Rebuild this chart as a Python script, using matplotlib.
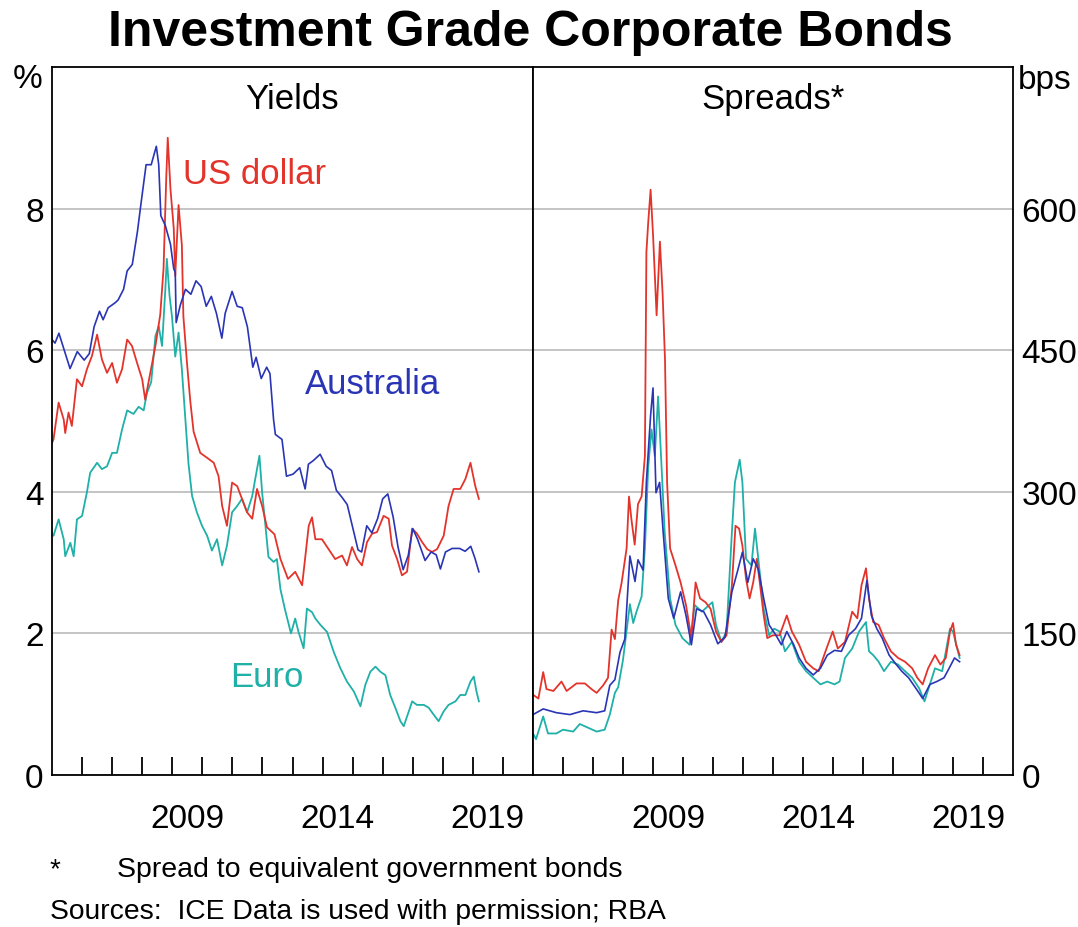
import matplotlib.pyplot as plt
import numpy as np

plt.rcParams['font.family'] = ['Liberation Sans', 'DejaVu Sans']

################## Yields (per cent) #######################
au_yld_t = [2005.0, 2005.1, 2005.23, 2005.6, 2005.84, 2006.07, 2006.24, 2006.4, 2006.58, 2006.7,
            2006.87, 2007.1, 2007.2, 2007.38, 2007.5, 2007.67, 2007.84, 2007.96, 2008.13, 2008.3,
            2008.47, 2008.55, 2008.62, 2008.77, 2008.94, 2009.05, 2009.1, 2009.13, 2009.27, 2009.44,
            2009.62, 2009.79, 2009.96, 2010.13, 2010.3, 2010.47, 2010.65, 2010.76, 2010.99, 2011.16,
            2011.33, 2011.5, 2011.68, 2011.79, 2011.96, 2012.14, 2012.25, 2012.37, 2012.43, 2012.65,
            2012.8, 2013.02, 2013.24, 2013.42, 2013.53, 2013.69, 2013.92, 2014.12, 2014.3, 2014.46,
            2014.65, 2014.82, 2015.0, 2015.18, 2015.3, 2015.47, 2015.64, 2015.83, 2016.0, 2016.17,
            2016.35, 2016.51, 2016.68, 2016.85, 2017.0, 2017.16, 2017.41, 2017.61, 2017.78, 2017.92,
            2018.09, 2018.31, 2018.56, 2018.74, 2018.93, 2019.07, 2019.2]
au_yld = [6.15, 6.1, 6.24, 5.74, 5.98, 5.86, 5.95, 6.33, 6.55, 6.43,
          6.6, 6.67, 6.71, 6.86, 7.12, 7.21, 7.67, 8.07, 8.62, 8.62,
          8.88, 8.62, 7.9, 7.76, 7.5, 7.15, 7.1, 6.39, 6.64, 6.86,
          6.79, 6.98, 6.9, 6.62, 6.76, 6.52, 6.17, 6.52, 6.83, 6.62,
          6.6, 6.33, 5.76, 5.9, 5.6, 5.76, 5.67, 5.02, 4.81, 4.74,
          4.22, 4.25, 4.34, 4.04, 4.39, 4.44, 4.53, 4.36, 4.3, 4.02,
          3.92, 3.82, 3.5, 3.18, 3.15, 3.52, 3.42, 3.62, 3.9, 3.97,
          3.64, 3.22, 2.9, 3.1, 3.48, 3.33, 3.03, 3.15, 3.11, 2.91,
          3.15, 3.2, 3.2, 3.16, 3.23, 3.06, 2.87]

us_yld_t = [2005.0, 2005.05, 2005.22, 2005.39, 2005.44, 2005.55, 2005.66, 2005.83, 2006.0, 2006.16,
            2006.33, 2006.5, 2006.66, 2006.83, 2007.0, 2007.16, 2007.33, 2007.5, 2007.66, 2007.83,
            2008.0, 2008.1, 2008.27, 2008.44, 2008.6, 2008.71, 2008.8, 2008.85, 2008.94, 2009.05,
            2009.1, 2009.21, 2009.32, 2009.37, 2009.49, 2009.6, 2009.71, 2009.93, 2010.16, 2010.38,
            2010.54, 2010.66, 2010.82, 2010.99, 2011.16, 2011.32, 2011.49, 2011.66, 2011.82, 2011.99,
            2012.15, 2012.4, 2012.6, 2012.85, 2013.09, 2013.32, 2013.54, 2013.65, 2013.76, 2013.98,
            2014.2, 2014.42, 2014.65, 2014.81, 2014.98, 2015.15, 2015.31, 2015.48, 2015.65, 2015.81,
            2016.03, 2016.2, 2016.31, 2016.48, 2016.64, 2016.81, 2016.98, 2017.14, 2017.31, 2017.48,
            2017.64, 2017.81, 2018.03, 2018.19, 2018.36, 2018.58, 2018.75, 2018.92, 2019.08, 2019.2]
us_yld = [4.69, 4.74, 5.26, 5.02, 4.83, 5.12, 4.93, 5.59, 5.49, 5.73,
          5.92, 6.22, 5.87, 5.68, 5.82, 5.54, 5.73, 6.15, 6.06, 5.82,
          5.59, 5.3, 5.68, 6.06, 6.5, 7.15, 8.43, 9.0, 8.28, 7.72,
          7.05, 8.05, 7.48, 6.48, 5.82, 5.28, 4.85, 4.55, 4.48, 4.41,
          4.22, 3.8, 3.52, 4.13, 4.08, 3.9, 3.71, 3.62, 4.04, 3.8,
          3.5, 3.4, 3.05, 2.77, 2.87, 2.68, 3.52, 3.64, 3.33, 3.33,
          3.19, 3.05, 3.1, 2.96, 3.22, 3.05, 2.96, 3.29, 3.41, 3.43,
          3.66, 3.62, 3.24, 3.05, 2.82, 2.87, 3.48, 3.41, 3.29, 3.19,
          3.15, 3.19, 3.38, 3.8, 4.04, 4.04, 4.18, 4.41, 4.08, 3.9]

eu_yld_t = [2005.0, 2005.05, 2005.22, 2005.39, 2005.44, 2005.61, 2005.72, 2005.83, 2006.0, 2006.16,
            2006.27, 2006.5, 2006.66, 2006.83, 2007.0, 2007.16, 2007.33, 2007.5, 2007.71, 2007.88,
            2008.05, 2008.16, 2008.3, 2008.44, 2008.55, 2008.66, 2008.77, 2008.82, 2008.91, 2008.99,
            2009.1, 2009.21, 2009.32, 2009.43, 2009.54, 2009.66, 2009.82, 2009.99, 2010.16, 2010.32,
            2010.49, 2010.66, 2010.82, 2010.99, 2011.16, 2011.32, 2011.49, 2011.66, 2011.76, 2011.9,
            2011.99, 2012.1, 2012.2, 2012.37, 2012.48, 2012.6, 2012.76, 2012.95, 2013.09, 2013.2,
            2013.37, 2013.48, 2013.65, 2013.76, 2013.93, 2014.15, 2014.37, 2014.59, 2014.81, 2015.04,
            2015.26, 2015.42, 2015.59, 2015.76, 2015.92, 2016.09, 2016.25, 2016.42, 2016.59, 2016.7,
            2016.87, 2016.98, 2017.14, 2017.37, 2017.53, 2017.7, 2017.86, 2018.03, 2018.19, 2018.42,
            2018.58, 2018.75, 2018.92, 2019.03, 2019.12, 2019.2]
eu_yld = [3.4, 3.38, 3.61, 3.33, 3.09, 3.28, 3.09, 3.61, 3.66, 3.99,
          4.27, 4.41, 4.32, 4.36, 4.55, 4.55, 4.88, 5.15, 5.1, 5.2,
          5.15, 5.4, 5.55, 6.2, 6.34, 6.06, 6.86, 7.29, 6.77, 6.48,
          5.91, 6.25, 5.73, 5.06, 4.4, 3.94, 3.71, 3.52, 3.38, 3.17,
          3.33, 2.96, 3.24, 3.71, 3.8, 3.9, 3.71, 3.94, 4.18, 4.51,
          3.99, 3.52, 3.08, 3.01, 3.05, 2.62, 2.32, 2.0, 2.21, 2.02,
          1.79, 2.35, 2.3, 2.21, 2.12, 2.02, 1.74, 1.51, 1.32, 1.18,
          0.97, 1.27, 1.46, 1.53, 1.46, 1.41, 1.13, 0.95, 0.76, 0.69,
          0.9, 1.04, 0.99, 0.99, 0.95, 0.85, 0.76, 0.9, 0.99, 1.04,
          1.13, 1.13, 1.32, 1.39, 1.18, 1.04]

################## Spreads (basis points) #######################
us_spr_t = [2005.0, 2005.18, 2005.34, 2005.45, 2005.68, 2005.95, 2006.12, 2006.45, 2006.73, 2006.95,
            2007.12, 2007.34, 2007.5, 2007.62, 2007.73, 2007.84, 2007.95, 2008.12, 2008.2, 2008.28,
            2008.39, 2008.5, 2008.62, 2008.73, 2008.78, 2008.84, 2008.92, 2009.0, 2009.12, 2009.23,
            2009.32, 2009.4, 2009.47, 2009.57, 2009.75, 2009.92, 2010.1, 2010.28, 2010.42, 2010.57,
            2010.75, 2010.92, 2011.1, 2011.28, 2011.45, 2011.63, 2011.75, 2011.87, 2011.98, 2012.1,
            2012.22, 2012.34, 2012.46, 2012.57, 2012.69, 2012.81, 2012.99, 2013.22, 2013.46, 2013.63,
            2013.87, 2014.1, 2014.34, 2014.52, 2014.75, 2014.99, 2015.16, 2015.4, 2015.64, 2015.81,
            2015.95, 2016.1, 2016.2, 2016.34, 2016.52, 2016.7, 2016.93, 2017.17, 2017.4, 2017.64,
            2017.81, 2017.99, 2018.17, 2018.4, 2018.58, 2018.76, 2018.9, 2019.0, 2019.1, 2019.22]
us_spr = [85, 81, 109, 91, 89, 99, 89, 97, 97, 91,
          87, 95, 103, 154, 144, 185, 203, 240, 295, 271,
          244, 287, 295, 338, 554, 585, 620, 573, 487, 565,
          510, 440, 310, 240, 222, 204, 180, 145, 204, 187,
          183, 176, 152, 141, 148, 201, 264, 261, 243, 208,
          187, 204, 229, 201, 169, 145, 148, 148, 169, 152,
          138, 120, 113, 110, 131, 152, 134, 141, 173, 166,
          201, 219, 187, 162, 159, 145, 131, 124, 120, 113,
          103, 96, 113, 127, 117, 124, 152, 161, 138, 127]

au_spr_t = [2005.0, 2005.34, 2005.78, 2006.23, 2006.67, 2007.12, 2007.39, 2007.56, 2007.73, 2007.9,
            2008.06, 2008.23, 2008.4, 2008.5, 2008.67, 2008.78, 2008.92, 2009.0, 2009.1, 2009.22,
            2009.34, 2009.51, 2009.69, 2009.92, 2010.1, 2010.28, 2010.45, 2010.69, 2010.92, 2011.16,
            2011.4, 2011.63, 2011.81, 2011.98, 2012.16, 2012.34, 2012.51, 2012.69, 2012.87, 2013.1,
            2013.28, 2013.46, 2013.69, 2013.87, 2014.1, 2014.34, 2014.58, 2014.81, 2015.05, 2015.28,
            2015.52, 2015.75, 2015.95, 2016.13, 2016.28, 2016.46, 2016.64, 2016.87, 2017.11, 2017.29,
            2017.52, 2017.76, 2017.99, 2018.23, 2018.46, 2018.7, 2018.87, 2019.05, 2019.22]
au_spr = [64, 70, 66, 64, 68, 66, 68, 95, 101, 130,
          144, 232, 205, 228, 217, 311, 381, 410, 299, 310,
          257, 187, 166, 194, 169, 138, 176, 173, 159, 139,
          146, 194, 215, 236, 204, 229, 218, 187, 159, 148,
          138, 152, 138, 124, 113, 106, 113, 127, 132, 131,
          148, 155, 166, 206, 169, 155, 145, 127, 117, 110,
          103, 92, 81, 96, 99, 103, 113, 124, 120]

eu_spr_t = [2005.0, 2005.1, 2005.34, 2005.5, 2005.78, 2006.0, 2006.34, 2006.56, 2006.84, 2007.12,
            2007.39, 2007.56, 2007.73, 2007.84, 2008.0, 2008.23, 2008.34, 2008.45, 2008.62, 2008.73,
            2008.84, 2008.95, 2009.06, 2009.17, 2009.28, 2009.39, 2009.57, 2009.75, 2009.98, 2010.22,
            2010.39, 2010.63, 2010.87, 2010.98, 2011.1, 2011.28, 2011.45, 2011.63, 2011.73, 2011.89,
            2011.98, 2012.1, 2012.28, 2012.4, 2012.51, 2012.69, 2012.87, 2013.04, 2013.22, 2013.4,
            2013.63, 2013.87, 2014.1, 2014.34, 2014.58, 2014.81, 2015.05, 2015.22, 2015.4, 2015.64,
            2015.87, 2016.1, 2016.2, 2016.34, 2016.52, 2016.7, 2016.93, 2017.17, 2017.4, 2017.64,
            2017.87, 2018.05, 2018.23, 2018.4, 2018.64, 2018.9, 2019.0, 2019.22]
eu_spr = [44, 38, 62, 44, 44, 48, 46, 54, 50, 46,
          48, 64, 87, 93, 122, 181, 161, 173, 189, 240,
          326, 366, 338, 401, 330, 257, 187, 159, 145, 138,
          180, 173, 180, 183, 159, 141, 152, 257, 310, 334,
          310, 229, 222, 261, 229, 176, 148, 155, 152, 131,
          141, 120, 110, 103, 96, 99, 96, 99, 124, 134,
          152, 162, 131, 127, 120, 110, 120, 117, 110, 103,
          92, 78, 96, 113, 110, 155, 152, 124]

year_labels = ['2009', '2014', '2019']
yld_ticks = [0, 2, 4, 6, 8]
spr_ticks = [0, 150, 300, 450, 600]

RED = '#e3342c'
BLUE = '#2a35b5'
TEAL = '#1fb0a8'
GRID = '#b4b4b4'

fig = plt.figure(figsize=(10.78, 9.28), dpi=100)
ax1 = fig.add_axes([52 / 1078, 152 / 928, 481 / 1078, 708 / 928])
ax2 = fig.add_axes([533 / 1078, 152 / 928, 480 / 1078, 708 / 928])


def style(ax, ticks, ymax):
    ax.set_xlim(2005, 2021)
    ax.set_ylim(0, ymax)
    ax.set_yticks(ticks)
    ax.set_xticks(np.arange(2006, 2021))
    ax.set_xticklabels([])
    ax.set_xticks([2009.5, 2014.5, 2019.5], minor=True)
    ax.set_xticklabels(year_labels, minor=True, fontsize=24)
    ax.tick_params(axis='x', which='major', direction='in', length=13, width=1.3)
    ax.tick_params(axis='x', which='minor', length=0, pad=20)
    ax.tick_params(axis='y', length=0, labelsize=24, pad=6)
    ax.grid(axis='y', color=GRID, lw=1.1)
    ax.set_axisbelow(True)
    for s in ax.spines.values():
        s.set_linewidth(1.3)


style(ax1, yld_ticks, 10)
style(ax2, spr_ticks, 750)
ax2.yaxis.tick_right()

ax1.plot(eu_yld_t, eu_yld, color=TEAL, lw=1.3)
ax1.plot(us_yld_t, us_yld, color=RED, lw=1.3)
ax1.plot(au_yld_t, au_yld, color=BLUE, lw=1.2)

ax2.plot(eu_spr_t, eu_spr, color=TEAL, lw=1.3)
ax2.plot(us_spr_t, us_spr, color=RED, lw=1.3)
ax2.plot(au_spr_t, au_spr, color=BLUE, lw=1.2)

ax1.text(0.5, 0.955, 'Yields', transform=ax1.transAxes, ha='center', va='center', fontsize=25)
ax2.text(0.5, 0.955, 'Spreads*', transform=ax2.transAxes, ha='center', va='center', fontsize=25)

ax1.text(2009.37, 8.49, 'US dollar', color=RED, fontsize=25, va='center')
ax1.text(2013.43, 5.53, 'Australia', color=BLUE, fontsize=25, va='center')
ax1.text(2010.94, 1.39, 'Euro', color=TEAL, fontsize=25, va='center')

fig.text(28 / 1078, 1 - 80 / 928, '%', ha='center', va='center', fontsize=24)
fig.text(1045 / 1078, 1 - 80 / 928, 'bps', ha='center', va='center', fontsize=24)

fig.text(530 / 1078, 1 - 33 / 928, 'Investment Grade Corporate Bonds', ha='center', va='center',
         fontsize=36, fontweight='bold')

fig.text(50 / 1078, 1 - 870 / 928, '*', ha='left', va='center', fontsize=20)
fig.text(117 / 1078, 1 - 870 / 928, 'Spread to equivalent government bonds', ha='left',
         va='center', fontsize=20.5)
fig.text(50 / 1078, 1 - 912 / 928, 'Sources:  ICE Data is used with permission; RBA', ha='left',
         va='center', fontsize=20.3)

fig.savefig('out.png', dpi=100)
